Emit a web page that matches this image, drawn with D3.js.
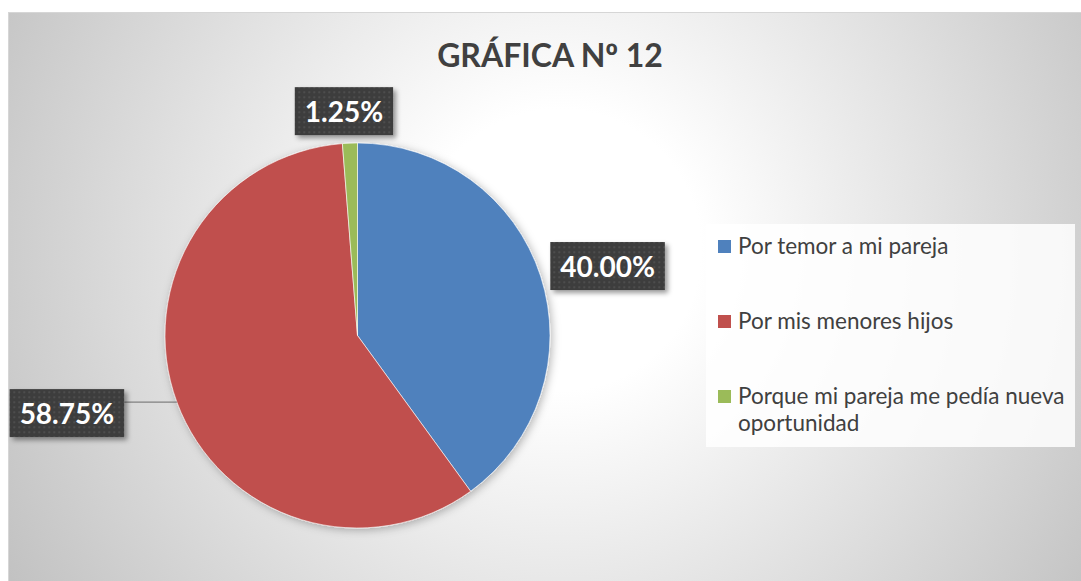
<!DOCTYPE html>
<html>
<head>
<meta charset="utf-8">
<script src="https://cdn.jsdelivr.net/npm/d3@7"></script>
<style>
  html, body { margin: 0; padding: 0; background: #ffffff; }
  svg { display: block; }
  .chart-title { font-family: Lato, "Open Sans", sans-serif; font-weight: 700; fill: #404040; }
  .chart-title .ord { font-family: "Open Sans", "DejaVu Sans", sans-serif; }
  .legend text { font-family: Lato, "Open Sans", sans-serif; fill: #404040; }
  .data-label text { font-family: Lato, "Open Sans", sans-serif; font-weight: 700; fill: #ffffff; }
</style>
</head>
<body>
<div id="chart"></div>
<script>
const TITLE_PARTS = ["GRÁFICA N", "º", " 12"];
const categories = ["Por temor a mi pareja", "Por mis menores hijos", "Porque mi pareja me pedía nueva oportunidad"];
const percentages = [40.00, 58.75, 1.25];
const colors = ["#4f81bd", "#c0504d", "#9bbb59"];

(function () {
  "use strict";

  // 1. Layout
  const W = 1081, H = 581;
  const frame = { x: 8.5, y: 12.5 };
  const cx = 357.5, cy = 335.5, radius = 192.5;

  // label centre offsets from the outer point of each slice (excel "best fit")
  const labelOffsets = [[67, -10], [-110, 11], [-6, -32]];
  const leaderOn = [false, true, false];

  const rows = categories.map((c, i) => ({ cat: c, value: percentages[i], color: colors[i], i: i }));

  const svg = d3.select("#chart").append("svg")
    .attr("width", W)
    .attr("height", H);

  const defs = svg.append("defs");

  // 2. Background radial fill
  const grad = defs.append("radialGradient")
    .attr("id", "bg")
    .attr("gradientUnits", "userSpaceOnUse")
    .attr("cx", 560).attr("cy", 250).attr("r", 640);
  grad.append("stop").attr("offset", 0).attr("stop-color", "#ffffff");
  grad.append("stop").attr("offset", 0.22).attr("stop-color", "#ffffff");
  grad.append("stop").attr("offset", 1).attr("stop-color", "#c2c2c2");

  const shadow = defs.append("filter").attr("id", "pieShadow")
    .attr("x", "-20%").attr("y", "-20%").attr("width", "140%").attr("height", "140%");
  shadow.append("feDropShadow")
    .attr("dx", 2).attr("dy", 2).attr("stdDeviation", 4)
    .attr("flood-color", "#000").attr("flood-opacity", 0.28);

  const boxShadow = defs.append("filter").attr("id", "boxShadow")
    .attr("x", "-20%").attr("y", "-30%").attr("width", "150%").attr("height", "170%");
  boxShadow.append("feDropShadow")
    .attr("dx", 3).attr("dy", 3).attr("stdDeviation", 2.5)
    .attr("flood-color", "#000").attr("flood-opacity", 0.4);

  // dotted fill for the data label boxes
  const pat = defs.append("pattern")
    .attr("id", "dots")
    .attr("patternUnits", "userSpaceOnUse")
    .attr("width", 5).attr("height", 5);
  pat.append("rect").attr("width", 5).attr("height", 5).attr("fill", "#3d3d3d");
  pat.append("rect").attr("x", 1).attr("y", 1).attr("width", 1.4).attr("height", 1.4).attr("fill", "#5e5e5e");

  svg.append("rect")
    .attr("x", frame.x).attr("y", frame.y)
    .attr("width", W - frame.x + 2).attr("height", H - frame.y + 2)
    .attr("fill", "url(#bg)")
    .attr("stroke", "#d6d6d6")
    .attr("stroke-width", 1);

  // 3. Title
  const title = svg.append("text")
    .attr("class", "chart-title")
    .attr("x", 550)
    .attr("y", 67)
    .attr("text-anchor", "middle")
    .attr("font-size", 32);
  TITLE_PARTS.forEach((p, i) => {
    title.append("tspan").attr("class", i === 1 ? "ord" : null).text(p);
  });

  // 4. Pie
  const pie = d3.pie().sort(null).value(d => d.value);
  const arcs = pie(rows);
  const arc = d3.arc().innerRadius(0).outerRadius(radius);

  const pieG = svg.append("g")
    .attr("transform", `translate(${cx},${cy})`);

  pieG.append("g")
    .attr("filter", "url(#pieShadow)")
    .selectAll("path")
    .data(arcs)
    .join("path")
    .attr("d", arc)
    .attr("fill", d => d.data.color)
    .attr("stroke", "#ffffff")
    .attr("stroke-width", 0.6);

  // 5. Data labels
  const fmt = v => v.toFixed(2) + "%";
  arcs.forEach((a, i) => {
    const mid = (a.startAngle + a.endAngle) / 2;
    const px = Math.sin(mid) * radius, py = -Math.cos(mid) * radius;
    const lx = px + labelOffsets[i][0], ly = py + labelOffsets[i][1];

    const lg = pieG.append("g").attr("class", "data-label");
    const t = lg.append("text")
      .attr("x", lx)
      .attr("y", ly)
      .attr("text-anchor", "middle")
      .attr("dominant-baseline", "central")
      .attr("font-size", 28)
      .text(fmt(a.data.value));
    const tw = t.node().getComputedTextLength();
    const bw = tw + 20, bh = 48;

    if (leaderOn[i]) {
      pieG.insert("line", ".data-label")
        .attr("x1", px).attr("y1", py)
        .attr("x2", lx + bw / 2).attr("y2", py)
        .attr("stroke", "#808080")
        .attr("stroke-width", 1.2);
    }

    lg.insert("rect", "text")
      .attr("x", lx - bw / 2)
      .attr("y", ly - bh / 2)
      .attr("width", bw)
      .attr("height", bh)
      .attr("fill", "url(#dots)")
      .attr("filter", "url(#boxShadow)");
  });

  // 6. Legend
  const legend = svg.append("g").attr("class", "legend");
  legend.append("rect")
    .attr("x", 706).attr("y", 224)
    .attr("width", 369).attr("height", 223)
    .attr("fill", "#ffffff")
    .attr("fill-opacity", 0.85);

  const legendX = 718, textX = 738, maxW = 334;
  const firstBase = 254, rowStep = 75, lineH = 27;
  const sw = 13;

  rows.forEach((d, i) => {
    const base = firstBase + i * rowStep;
    legend.append("rect")
      .attr("x", legendX).attr("y", base - sw - 1)
      .attr("width", sw).attr("height", sw)
      .attr("fill", d.color);

    const txt = legend.append("text")
      .attr("x", textX)
      .attr("y", base)
      .attr("font-size", 22.5);

    // simple word wrap
    const words = d.cat.split(" ");
    let line = [];
    let lineNo = 0;
    let tspan = txt.append("tspan").attr("x", textX).attr("y", base);
    words.forEach(w => {
      line.push(w);
      tspan.text(line.join(" "));
      if (tspan.node().getComputedTextLength() > maxW && line.length > 1) {
        line.pop();
        tspan.text(line.join(" "));
        line = [w];
        lineNo += 1;
        tspan = txt.append("tspan").attr("x", textX).attr("y", base + lineNo * lineH).text(w);
      }
    });
  });

})();
</script>
</body>
</html>
